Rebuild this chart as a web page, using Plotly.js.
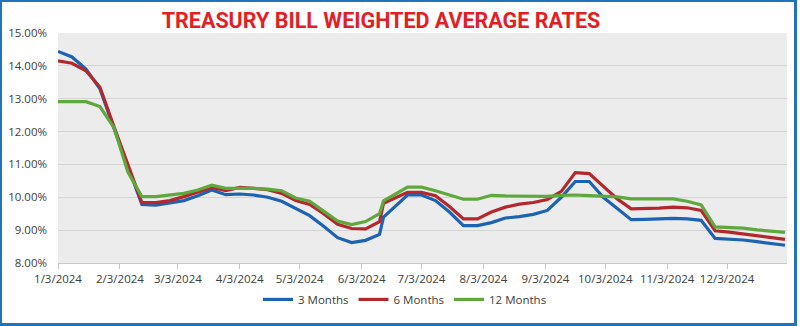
<!DOCTYPE html>
<html>
<head>
<meta charset="utf-8">
<script src="https://cdn.plot.ly/plotly-3.0.1.min.js"></script>
<style>
  html, body { margin: 0; padding: 0; background: #ffffff; }
  #wrap { position: relative; width: 800px; height: 326px; }
  #chart { position: absolute; left: 0; top: 0; width: 800px; height: 326px; }
  #frame { position: absolute; left: 0; top: 0; width: 797px; height: 326px; box-sizing: border-box;
           border-style: solid; border-color: #1f74bb; border-width: 2px 3px 3px 2px; pointer-events: none; }
</style>
</head>
<body>
<div id="wrap">
  <div id="chart"></div>
  <div id="frame"></div>
</div>
<script>
// Auction dates (weekly)
const dates = [
  '2024-01-03','2024-01-10','2024-01-17','2024-01-24','2024-01-31',
  '2024-02-07','2024-02-14','2024-02-21','2024-02-28',
  '2024-03-06','2024-03-13','2024-03-20','2024-03-27',
  '2024-04-03','2024-04-10','2024-04-17','2024-04-24',
  '2024-05-01','2024-05-08','2024-05-15','2024-05-22','2024-05-29',
  '2024-06-05','2024-06-12','2024-06-14','2024-06-26',
  '2024-07-03','2024-07-10','2024-07-17','2024-07-24','2024-07-31',
  '2024-08-07','2024-08-14','2024-08-21','2024-08-28',
  '2024-09-04','2024-09-11','2024-09-18','2024-09-25',
  '2024-10-02','2024-10-09','2024-10-16','2024-10-23','2024-10-30',
  '2024-11-06','2024-11-13','2024-11-20','2024-11-27',
  '2024-12-04','2024-12-11','2024-12-18','2024-12-25','2025-01-01'
];

// Weighted average rates (%)
const months3 = [
  14.44,14.27,13.90,13.30,12.10,
  10.95,9.78,9.76,9.82,
  9.90,10.05,10.22,10.08,
  10.10,10.07,10.00,9.88,
  9.65,9.44,9.12,8.77,8.62,
  8.69,8.87,9.40,10.07,
  10.07,9.90,9.55,9.14,9.14,
  9.23,9.37,9.41,9.48,
  9.60,10.00,10.48,10.48,
  10.00,9.65,9.32,9.33,9.34,
  9.36,9.34,9.30,8.75,
  8.73,8.70,8.65,8.59,8.54
];
const months6 = [
  14.15,14.08,13.85,13.35,12.15,
  11.00,9.84,9.84,9.90,
  10.02,10.15,10.30,10.20,
  10.30,10.27,10.23,10.12,
  9.90,9.78,9.50,9.18,9.05,
  9.04,9.26,9.82,10.15,
  10.15,10.05,9.72,9.34,9.34,
  9.55,9.70,9.79,9.84,
  9.93,10.18,10.75,10.72,
  10.33,9.95,9.65,9.65,9.67,
  9.70,9.68,9.60,8.98,
  8.94,8.89,8.82,8.77,8.72
];
const months12 = [
  12.91,12.91,12.91,12.76,12.12,
  10.77,10.02,10.02,10.06,
  10.12,10.22,10.37,10.27,
  10.28,10.27,10.25,10.20,
  9.98,9.88,9.58,9.28,9.17,
  9.26,9.50,9.89,10.31,
  10.31,10.20,10.08,9.94,9.94,
  10.06,10.04,10.03,10.02,
  10.03,10.06,10.07,10.05,
  10.04,10.01,9.95,9.95,9.95,
  9.95,9.88,9.77,9.10,
  9.08,9.06,9.01,8.96,8.93
];

const seriesNames = ['3 Months','6 Months','12 Months'];
const tickDates = ['2024-01-03','2024-02-03','2024-03-03','2024-04-03','2024-05-03','2024-06-03',
                   '2024-07-03','2024-08-03','2024-09-03','2024-10-03','2024-11-03','2024-12-03'];
const tickLabels = ['1/3/2024','2/3/2024','3/3/2024','4/3/2024','5/3/2024','6/3/2024',
                    '7/3/2024','8/3/2024','9/3/2024','10/3/2024','11/3/2024','12/3/2024'];

const colors = ['#1c63b3','#b3282d','#5ea83d'];
const vals = [months3, months6, months12];

const traces = vals.map((v, i) => ({
  type: 'scatter', mode: 'lines', name: seriesNames[i],
  x: dates, y: v,
  line: { color: colors[i], width: 3.2 }
}));

const layout = {
  width: 800, height: 326,
  margin: { l: 58, r: 13, t: 33, b: 53 },
  paper_bgcolor: '#ffffff',
  plot_bgcolor: '#ececec',
  font: { family: 'Open Sans, Liberation Sans, sans-serif', size: 11, color: '#404040' },
  title: {
    text: 'TREASURY BILL WEIGHTED AVERAGE RATES',
    font: { family: 'Roboto, Liberation Sans, sans-serif', size: 21.5, color: '#e31e25', weight: 700 },
    x: 381/800, xanchor: 'center', xref: 'container',
    y: 1 - 20/326, yanchor: 'middle', yref: 'container'
  },
  xaxis: {
    type: 'date',
    range: ['2024-01-03', '2025-01-02'],
    tickvals: tickDates, ticktext: tickLabels,
    ticks: 'outside', ticklen: 5, tickcolor: '#c8c8c8',
    showline: true, linecolor: '#c8c8c8', linewidth: 1,
    showgrid: false, zeroline: false,
    tickfont: { size: 11.5, color: '#404040' }
  },
  yaxis: {
    range: [8, 15], dtick: 1, tick0: 8,
    tickformat: '.2f', ticksuffix: '%',
    showgrid: true, gridcolor: '#d4d4d4', gridwidth: 1,
    zeroline: false, showline: false, ticks: '',
    ticklabelstandoff: 10,
    tickfont: { size: 11.5, color: '#404040' }
  },
  showlegend: true,
  legend: {
    orientation: 'h', x: (405-58)/729, xanchor: 'center',
    y: -(311-273)/240, yanchor: 'middle',
    font: { size: 11.5, color: '#404040' },
    itemwidth: 30, bgcolor: 'rgba(0,0,0,0)'
  }
};

Plotly.newPlot('chart', traces, layout, { staticPlot: true, displayModeBar: false });
</script>
</body>
</html>
